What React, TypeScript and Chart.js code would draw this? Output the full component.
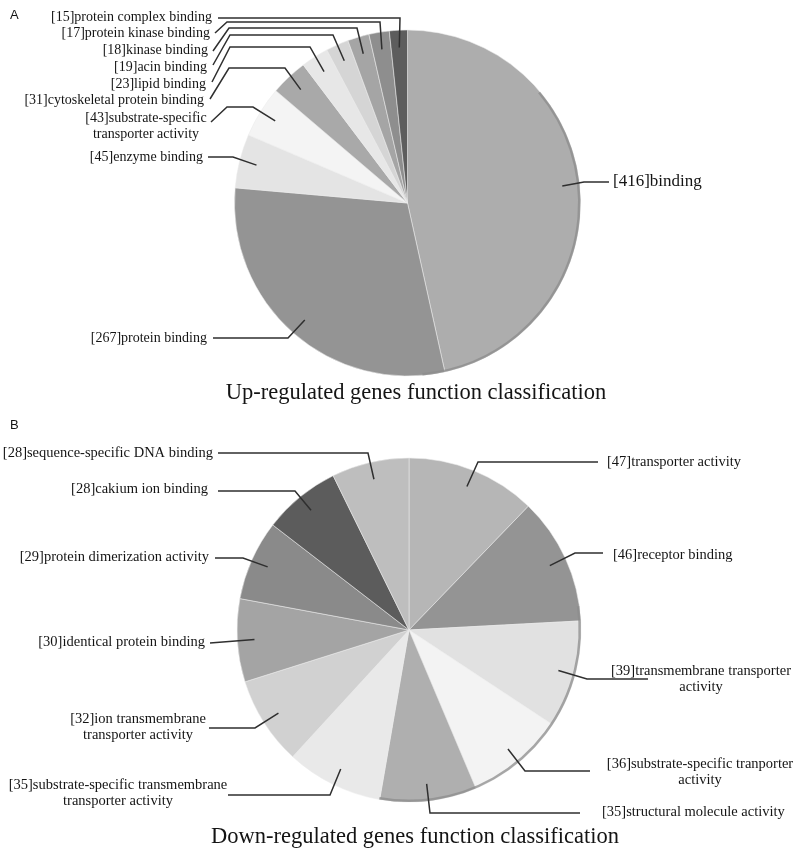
import React, { useEffect, useRef } from 'react';
import { Chart, registerables } from 'chart.js';

Chart.register(...registerables);

// ---------- Data: Up-regulated (A) ----------
const upLabels = [
  'binding',
  'protein binding',
  'enzyme binding',
  'substrate-specific transporter activity',
  'cytoskeletal protein binding',
  'lipid binding',
  'acin binding',
  'kinase binding',
  'protein kinase binding',
  'protein complex binding',
];
const upValues = [416, 267, 45, 43, 31, 23, 19, 18, 17, 15];
const upColors = ['#adadad', '#949494', '#e4e4e4', '#f4f4f4', '#a9a9a9', '#e7e7e7', '#d5d5d5', '#a5a5a5', '#8e8e8e', '#5d5d5d'];
const upTitle = 'Up-regulated genes function classification';

// ---------- Data: Down-regulated (B) ----------
const downLabels = [
  'transporter activity',
  'receptor binding',
  'transmembrane transporter activity',
  'substrate-specific tranporter activity',
  'structural molecule activity',
  'substrate-specific transmembrane transporter activity',
  'ion transmembrane transporter activity',
  'identical protein binding',
  'protein dimerization activity',
  'cakium ion binding',
  'sequence-specific DNA binding',
];
const downValues = [47, 46, 39, 36, 35, 35, 32, 30, 29, 28, 28];
const downColors = ['#b6b6b6', '#949494', '#e1e1e1', '#f3f3f3', '#afafaf', '#e9e9e9', '#d1d1d1', '#a4a4a4', '#8a8a8a', '#5c5c5c', '#bebebe'];
const downTitle = 'Down-regulated genes function classification';

// ---------- Layout (label placement, leader elbows) ----------
type Lay = { x: number; y: number; align: CanvasTextAlign; size?: number; br?: number; pts: number[][] };

const upLayout: Lay[] = [
  { x: 613, y: 182, align: 'left', size: 17, pts: [[609, 182], [584, 182]] },
  { x: 207, y: 338, align: 'right', pts: [[213, 338], [288, 338]] },
  { x: 203, y: 157, align: 'right', pts: [[208, 157], [233, 157]] },
  { x: 146, y: 118, align: 'center', br: 1, pts: [[211, 122], [227, 107], [253, 107]] },
  { x: 204, y: 100, align: 'right', pts: [[210, 99], [229, 68], [285, 68]] },
  { x: 206, y: 84, align: 'right', pts: [[212, 82], [230, 47], [310, 47]] },
  { x: 207, y: 67, align: 'right', pts: [[213, 65], [230, 35], [333, 35]] },
  { x: 208, y: 50, align: 'right', pts: [[213, 51], [229, 28], [357, 28]] },
  { x: 210, y: 33, align: 'right', pts: [[215, 33], [227, 22], [380, 22]] },
  { x: 212, y: 17, align: 'right', pts: [[218, 18], [400, 18]] },
];

const downLayout: Lay[] = [
  { x: 607, y: 462, align: 'left', pts: [[598, 462], [478, 462]] },
  { x: 613, y: 555, align: 'left', pts: [[603, 553], [575, 553]] },
  { x: 701, y: 671, align: 'center', br: 2, pts: [[648, 679], [587, 679]] },
  { x: 700, y: 764, align: 'center', br: 2, pts: [[590, 771], [525, 771]] },
  { x: 602, y: 812, align: 'left', pts: [[580, 813], [430, 813]] },
  { x: 118, y: 785, align: 'center', br: 2, pts: [[228, 795], [330, 795]] },
  { x: 138, y: 719, align: 'center', br: 2, pts: [[209, 728], [255, 728]] },
  { x: 205, y: 642, align: 'right', pts: [[210, 643]] },
  { x: 209, y: 557, align: 'right', pts: [[215, 558], [243, 558]] },
  { x: 208, y: 489, align: 'right', pts: [[218, 491], [295, 491]] },
  { x: 213, y: 453, align: 'right', pts: [[218, 453], [368, 453]] },
];

const SERIF = '"Liberation Serif", "Times New Roman", serif';
const SANS = '"Liberation Sans", Arial, sans-serif';

type PieCfg = {
  labels: string[];
  values: number[];
  colors: string[];
  layout: Lay[];
  cx: number;
  cy: number;
  r: number;
  title: string;
  titleX: number;
  titleY: number;
  letter: string;
  letterY: number;
  rim: [number, number];
  fontSize: number;
};

function annotPlugin(cfg: PieCfg) {
  return {
    id: 'annot',
    afterDatasetsDraw(chart: any) {
      const ctx: CanvasRenderingContext2D = chart.ctx;
      const arcs = chart.getDatasetMeta(0).data;
      ctx.save();
      // rim shading
      const p0 = arcs[0].getProps(['x', 'y', 'outerRadius'], true);
      ctx.strokeStyle = 'rgba(140,140,140,0.75)';
      ctx.lineWidth = 2.5;
      ctx.beginPath();
      ctx.arc(p0.x, p0.y, p0.outerRadius - 1.2, (cfg.rim[0] * Math.PI) / 180, (cfg.rim[1] * Math.PI) / 180);
      ctx.stroke();

      arcs.forEach((arc: any, i: number) => {
        const p = arc.getProps(['x', 'y', 'startAngle', 'endAngle', 'outerRadius'], true);
        const mid = (p.startAngle + p.endAngle) / 2;
        const ex = p.x + Math.cos(mid) * p.outerRadius * 0.9;
        const ey = p.y + Math.sin(mid) * p.outerRadius * 0.9;
        const L = cfg.layout[i];
        ctx.strokeStyle = '#2f2f2f';
        ctx.lineWidth = 1.5;
        ctx.beginPath();
        ctx.moveTo(L.pts[0][0], L.pts[0][1]);
        for (let k = 1; k < L.pts.length; k++) ctx.lineTo(L.pts[k][0], L.pts[k][1]);
        ctx.lineTo(ex, ey);
        ctx.stroke();

        const full = `[${cfg.values[i]}]${cfg.labels[i]}`;
        let lines = [full];
        if (L.br) {
          const w = full.split(' ');
          lines = [w.slice(0, L.br).join(' '), w.slice(L.br).join(' ')];
        }
        ctx.fillStyle = '#141414';
        ctx.font = `${L.size || cfg.fontSize}px ${SERIF}`;
        ctx.textAlign = L.align;
        ctx.textBaseline = 'middle';
        lines.forEach((t, j) => ctx.fillText(t, L.x, L.y + j * 16));
      });

      ctx.fillStyle = '#141414';
      ctx.font = `22.5px ${SERIF}`;
      ctx.textAlign = 'center';
      ctx.textBaseline = 'middle';
      ctx.fillText(cfg.title, cfg.titleX, cfg.titleY);

      ctx.font = `13px ${SANS}`;
      ctx.textAlign = 'left';
      ctx.fillText(cfg.letter, 10, cfg.letterY);
      ctx.restore();
    },
  };
}

const W = 800;
const H = 854;

function PieCanvas({ cfg }: { cfg: PieCfg }) {
  const ref = useRef<HTMLCanvasElement | null>(null);
  useEffect(() => {
    if (!ref.current) return;
    const size = 2 * cfg.r + 1;
    const left = cfg.cx - size / 2;
    const top = cfg.cy - size / 2;
    const chart = new Chart(ref.current, {
      type: 'pie',
      data: {
        labels: cfg.labels,
        datasets: [
          {
            data: cfg.values,
            backgroundColor: cfg.colors,
            borderColor: 'rgba(235,235,235,0.55)',
            borderWidth: 1,
            hoverBorderWidth: 1,
            hoverOffset: 0,
          },
        ],
      },
      options: {
        responsive: false,
        maintainAspectRatio: false,
        animation: false,
        events: [],
        layout: { padding: { left, top, right: W - left - size, bottom: H - top - size } },
        plugins: { legend: { display: false }, tooltip: { enabled: false }, title: { display: false } },
      },
      plugins: [annotPlugin(cfg)],
    });
    return () => chart.destroy();
  }, [cfg]);
  return (
    <canvas
      ref={ref}
      width={W}
      height={H}
      style={{ position: 'absolute', left: 0, top: 0, width: W, height: H }}
    />
  );
}

const cfgA: PieCfg = {
  labels: upLabels,
  values: upValues,
  colors: upColors,
  layout: upLayout,
  cx: 407.5,
  cy: 203,
  r: 173,
  title: upTitle,
  titleX: 416,
  titleY: 393,
  letter: 'A',
  letterY: 15,
  rim: [-40, 85],
  fontSize: 14,
};

const cfgB: PieCfg = {
  labels: downLabels,
  values: downValues,
  colors: downColors,
  layout: downLayout,
  cx: 409,
  cy: 630,
  r: 172,
  title: downTitle,
  titleX: 415,
  titleY: 837,
  letter: 'B',
  letterY: 425,
  rim: [-8, 100],
  fontSize: 14.5,
};

export default function App() {
  return (
    <div style={{ position: 'absolute', left: 0, top: 0, width: W, height: H, background: '#fff' }}>
      <PieCanvas cfg={cfgA} />
      <PieCanvas cfg={cfgB} />
    </div>
  );
}
